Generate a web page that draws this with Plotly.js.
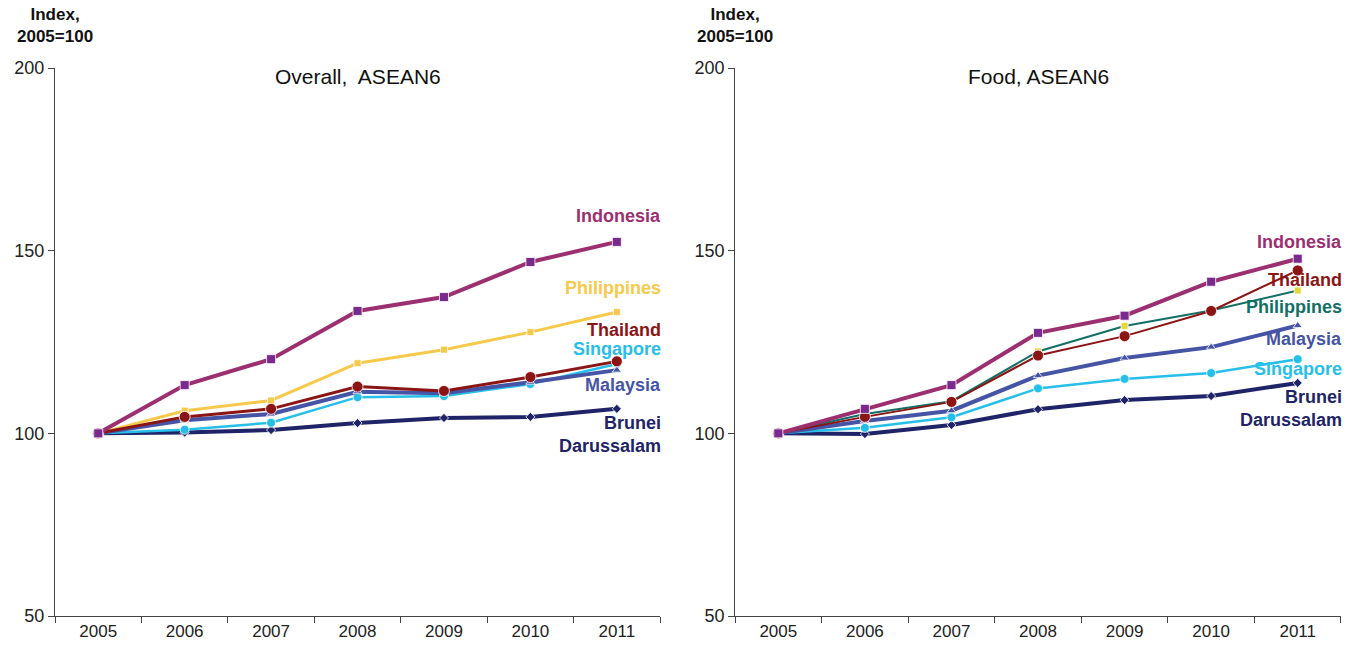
<!DOCTYPE html>
<html>
<head>
<meta charset="utf-8">
<script src="https://cdn.plot.ly/plotly-3.0.1.min.js"></script>
<style>html,body{margin:0;padding:0;background:#fff;}#chart{width:1346px;height:646px;}</style>
</head>
<body>
<div id="chart"></div>
<script>
var years = ['2005','2006','2007','2008','2009','2010','2011'];

// Overall CPI, ASEAN6 (index 2005=100)
var overallIndonesia   = [100, 113.2, 120.3, 133.5, 137.3, 146.9, 152.4];
var overallPhilippines = [100, 106.2, 109.0, 119.2, 122.9, 127.7, 133.2];
var overallThailand    = [100, 104.5, 106.7, 112.8, 111.6, 115.4, 119.7];
var overallMalaysia    = [100, 103.6, 105.3, 111.4, 111.0, 114.0, 117.3];
var overallSingapore   = [100, 101.0, 102.9, 109.9, 110.2, 113.5, 119.0];
var overallBrunei      = [100, 100.2, 100.9, 102.8, 104.2, 104.5, 106.7];

// Food CPI, ASEAN6 (index 2005=100)
var foodIndonesia   = [100, 106.7, 113.2, 127.5, 132.2, 141.5, 147.8];
var foodThailand    = [100, 104.5, 108.6, 121.3, 126.6, 133.5, 144.6];
var foodPhilippines = [100, 105.3, 108.8, 122.4, 129.4, 133.6, 139.1];
var foodMalaysia    = [100, 103.4, 106.2, 115.8, 120.6, 123.6, 129.5];
var foodSingapore   = [100, 101.5, 104.4, 112.3, 114.9, 116.5, 120.3];
var foodBrunei      = [100, 99.8, 102.3, 106.6, 109.1, 110.2, 113.8];

var labelFont = 'Liberation Sans, Arial, sans-serif';
var C = {
  ind: '#9c2f70', indMk: '#7a2a8c',
  phi: '#f7c94a', phiFood: '#136f66', phiMk: '#e4d83c',
  tha: '#8b1414',
  mal: '#4654a6',
  sin: '#27bfe9',
  bru: '#1f2468'
};

function tr(y, color, width, symbol, msize, mcolor, xa, ya) {
  return {
    x: years, y: y, type: 'scatter', mode: 'lines+markers',
    xaxis: xa, yaxis: ya, showlegend: false, hoverinfo: 'y',
    line: {color: color, width: width},
    marker: {symbol: symbol, size: msize, color: mcolor || color, line: {color: '#ffffff', width: 0.8}}
  };
}

var data = [
  tr(overallBrunei, C.bru, 4, 'diamond', 7, null, 'x', 'y'),
  tr(overallSingapore, C.sin, 2.5, 'circle', 9, null, 'x', 'y'),
  tr(overallMalaysia, C.mal, 4, 'triangle-up', 8, null, 'x', 'y'),
  tr(overallPhilippines, C.phi, 3, 'square', 7, null, 'x', 'y'),
  tr(overallThailand, C.tha, 3, 'circle', 11, null, 'x', 'y'),
  tr(overallIndonesia, C.ind, 4, 'square', 9, C.indMk, 'x', 'y'),

  tr(foodBrunei, C.bru, 4, 'diamond', 7, null, 'x2', 'y2'),
  tr(foodSingapore, C.sin, 2.5, 'circle', 9, null, 'x2', 'y2'),
  tr(foodMalaysia, C.mal, 4, 'triangle-up', 8, null, 'x2', 'y2'),
  tr(foodPhilippines, C.phiFood, 2, 'square', 7, C.phiMk, 'x2', 'y2'),
  tr(foodThailand, C.tha, 2, 'circle', 11, null, 'x2', 'y2'),
  tr(foodIndonesia, C.ind, 4, 'square', 9, C.indMk, 'x2', 'y2')
];

var axisX = function (dom, anchor) {
  return {
    domain: dom, anchor: anchor, type: 'category', range: [-0.5, 6.5],
    showline: true, linecolor: '#444', linewidth: 1,
    ticks: 'outside', tickson: 'boundaries', ticklen: 6, tickcolor: '#444',
    showgrid: false, zeroline: false,
    tickfont: {family: labelFont, size: 17, color: '#222'}
  };
};
var axisY = function (anchor) {
  return {
    anchor: anchor, range: [50, 200], tickvals: [50, 100, 150, 200],
    showline: true, linecolor: '#444', linewidth: 1,
    ticks: 'outside', ticklen: 6, tickcolor: '#444',
    showgrid: false, zeroline: false,
    tickfont: {family: labelFont, size: 18, color: '#222'}
  };
};

function lab(text, color, xa, ya, yv) {
  return {text: text, xref: xa, yref: ya, x: 6.5, y: yv, xanchor: 'right', yanchor: 'middle',
    showarrow: false, align: 'right', xshift: 3,
    font: {family: labelFont, size: 18, color: color, weight: 'bold'}};
}

var annotations = [
  {text: 'Index,<br>2005=100', xref: 'x domain', yref: 'paper', x: 0, y: 1.118, xanchor: 'center', yanchor: 'top',
   showarrow: false, align: 'center', font: {family: labelFont, size: 17, color: '#111', weight: 'bold'}},
  {text: 'Index,<br>2005=100', xref: 'x2 domain', yref: 'paper', x: 0, y: 1.118, xanchor: 'center', yanchor: 'top',
   showarrow: false, align: 'center', font: {family: labelFont, size: 17, color: '#111', weight: 'bold'}},
  {text: 'Overall,  ASEAN6', xref: 'x domain', yref: 'paper', x: 0.5, y: 0.984, xanchor: 'center', yanchor: 'middle',
   showarrow: false, font: {family: labelFont, size: 21, color: '#111'}},
  {text: 'Food, ASEAN6', xref: 'x2 domain', yref: 'paper', x: 0.5, y: 0.984, xanchor: 'center', yanchor: 'middle',
   showarrow: false, font: {family: labelFont, size: 21, color: '#111'}},

  lab('Indonesia', C.ind, 'x', 'y', 159.5),
  lab('Philippines', C.phi, 'x', 'y', 139.8),
  lab('Thailand', C.tha, 'x', 'y', 128.3),
  lab('Singapore', C.sin, 'x', 'y', 123.0),
  lab('Malaysia', C.mal, 'x', 'y', 113.2),
  lab('Brunei<br>Darussalam', C.bru, 'x', 'y', 99.8),

  lab('Indonesia', C.ind, 'x2', 'y2', 152.4),
  lab('Thailand', C.tha, 'x2', 'y2', 142.0),
  lab('Philippines', C.phiFood, 'x2', 'y2', 134.6),
  lab('Malaysia', C.mal, 'x2', 'y2', 125.8),
  lab('Singapore', C.sin, 'x2', 'y2', 117.6),
  lab('Brunei<br>Darussalam', C.bru, 'x2', 'y2', 106.9)
];

var layout = {
  width: 1346, height: 646,
  margin: {l: 55, r: 5, t: 68, b: 30},
  paper_bgcolor: '#ffffff', plot_bgcolor: '#ffffff',
  showlegend: false,
  xaxis: axisX([0, 0.4705], 'y'),
  yaxis: axisY('x'),
  xaxis2: axisX([0.5288, 1.0], 'y2'),
  yaxis2: axisY('x2'),
  annotations: annotations
};

Plotly.newPlot('chart', data, layout, {displayModeBar: false, staticPlot: true});
</script>
</body>
</html>
